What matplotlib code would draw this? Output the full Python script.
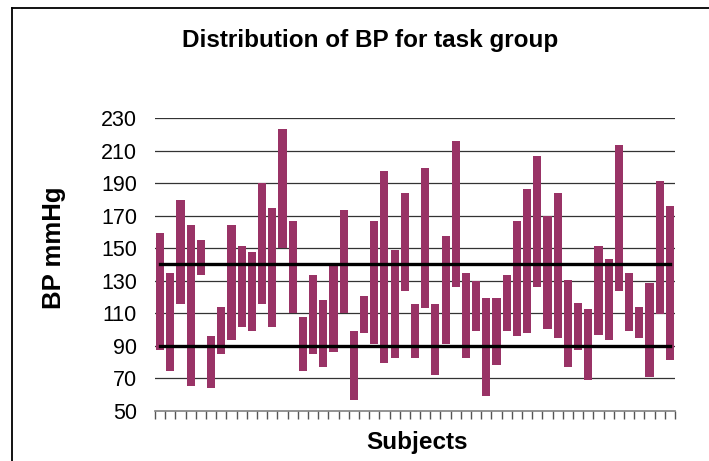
import matplotlib
matplotlib.use("Agg")
import matplotlib.pyplot as plt
from matplotlib.lines import Line2D
import numpy as np

plt.rcParams['font.family'] = ['Liberation Sans', 'DejaVu Sans']

subjects = list(range(1, 52))
bp_high = [159.4, 134.8, 179.7, 164.3, 155.1, 96.0, 113.8, 164.3, 151.4, 147.7,
           190.2, 174.8, 223.4, 166.8, 107.7, 133.5, 118.2, 139.7, 173.6, 99.1,
           120.6, 166.8, 197.6, 148.9, 184.0, 115.7, 199.4, 115.7, 157.6, 216.0,
           134.8, 129.9, 119.4, 119.4, 133.5, 166.8, 186.5, 206.8, 170.1, 184.0,
           130.5, 116.3, 112.6, 151.4, 143.4, 213.6, 134.8, 113.8, 128.6, 191.4,
           176.0]
bp_low = [87.6, 74.7, 115.9, 65.4, 133.8, 64.2, 84.9, 93.7, 101.7, 99.3,
          115.9, 101.7, 150.2, 110.0, 74.7, 84.9, 77.1, 86.4, 110.0, 56.8,
          98.1, 91.1, 79.6, 82.7, 123.9, 82.7, 113.4, 72.2, 91.1, 126.4,
          82.7, 99.3, 59.3, 78.4, 99.3, 96.2, 98.1, 126.4, 100.5, 94.7,
          77.1, 87.6, 69.1, 96.8, 93.7, 123.9, 99.3, 95.0, 71.0, 109.7,
          81.4]
ref_upper = 140
ref_lower = 90
y_ticks = [50, 70, 90, 110, 130, 150, 170, 190, 210, 230]

W, H = 709, 461
fig = plt.figure(figsize=(W / 100, H / 100), dpi=100)
ax = fig.add_axes([155 / W, 1 - 410.7 / H, (675 - 155) / W, (410.7 - 118.3) / H])

x = np.array(subjects)
heights = np.array(bp_high) - np.array(bp_low)
ax.bar(x, heights, bottom=bp_low, width=0.8, color='#993366', zorder=3)

ax.set_xlim(0.5, len(subjects) + 0.5)
ax.set_ylim(50, 230)
ax.set_yticks(y_ticks)
ax.set_yticklabels([str(v) for v in y_ticks], fontsize=15.5)
for v in y_ticks[1:]:
    ax.axhline(v, color='#333333', lw=0.9, zorder=1)

ax.plot([x[0], x[-1]], [ref_upper, ref_upper], color='black', lw=2.4, zorder=4)
ax.plot([x[0], x[-1]], [ref_lower, ref_lower], color='black', lw=2.4, zorder=4)

ax.set_xticks(np.arange(0.5, len(subjects) + 1, 1.0))
ax.set_xticklabels([])
ax.tick_params(axis='x', direction='out', length=6, width=1, color='#555555')
ax.tick_params(axis='y', length=0, pad=13)
for s in ['top', 'right', 'left']:
    ax.spines[s].set_visible(False)
ax.spines['bottom'].set_color('#808080')
ax.spines['bottom'].set_linewidth(1.2)

fig.text(370 / W, 1 - 41 / H, 'Distribution of BP for task group', fontsize=17.5,
         fontweight='bold', ha='center', va='center')
fig.text(417 / W, 1 - 442 / H, 'Subjects', fontsize=17.5, fontweight='bold',
         ha='center', va='center')
fig.text(54 / W, 1 - 248 / H, 'BP mmHg', fontsize=18.5, fontweight='bold',
         ha='center', va='center', rotation=90)

fig.add_artist(Line2D([12 / W, 12 / W], [0, 1 - 8 / H], transform=fig.transFigure,
                      color='black', lw=1.3))
fig.add_artist(Line2D([12 / W, 1], [1 - 8 / H, 1 - 8 / H], transform=fig.transFigure,
                      color='black', lw=1.3))

fig.savefig('out.png', dpi=100)
